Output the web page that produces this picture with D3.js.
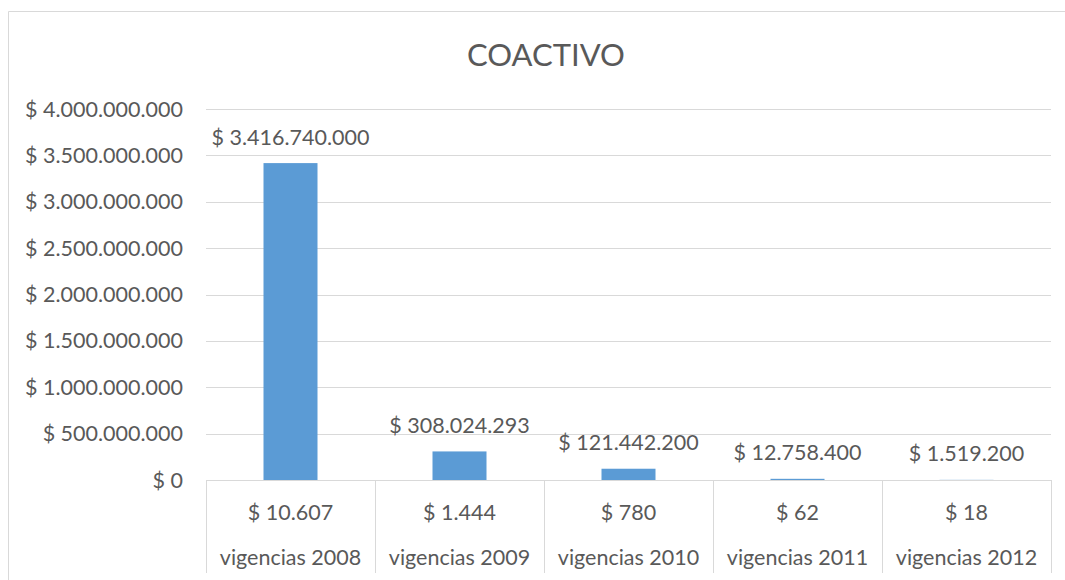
<!DOCTYPE html>
<html>
<head>
<meta charset="utf-8">
<script src="https://cdn.jsdelivr.net/npm/d3@7"></script>
<style>
  html, body { margin: 0; padding: 0; background: #fff; }
  svg { display: block; }
  text { font-family: Lato, "Open Sans", sans-serif; fill: #595959; }
</style>
</head>
<body>
<svg id="chart" width="1065" height="580"></svg>
<script>
// Values per year
const years = ["vigencias 2008", "vigencias 2009", "vigencias 2010", "vigencias 2011", "vigencias 2012"];
const counts = ["$ 10.607", "$ 1.444", "$ 780", "$ 62", "$ 18"];
const amounts = [3416740000, 308024293, 121442200, 12758400, 1519200];
const yTicks = [0, 500000000, 1000000000, 1500000000, 2000000000, 2500000000, 3000000000, 3500000000, 4000000000];
const title = "COACTIVO";

(function draw() {
  const svg = d3.select("#chart");
  const W = 1065, H = 580;
  const plotLeft = 206, plotRight = 1051, plotTop = 109, plotBottom = 480;
  const fs = "21.5px";

  // Money formatting with dots as thousands separator
  const es = d3.formatLocale({ decimal: ",", thousands: ".", grouping: [3], currency: ["$ ", ""] });
  const money = v => "$ " + es.format(",")(Math.round(v));

  // Chart frame
  svg.append("path")
    .attr("d", `M8.5,${H + 2} V11.5 H${W + 2}`)
    .attr("fill", "none").attr("stroke", "#d9d9d9").attr("stroke-width", 1);

  const x = d3.scaleBand().domain(years).range([plotLeft, plotRight]).paddingInner(0).paddingOuter(0);
  const y = d3.scaleLinear().domain([0, 4000000000]).range([plotBottom, plotTop]);

  // Gridlines
  svg.append("g").selectAll("line").data(yTicks.filter(d => d > 0)).join("line")
    .attr("x1", plotLeft).attr("x2", plotRight)
    .attr("y1", d => Math.round(y(d)) + 0.5).attr("y2", d => Math.round(y(d)) + 0.5)
    .attr("stroke", "#d9d9d9").attr("stroke-width", 1);

  // Y axis labels
  svg.append("g").selectAll("text").data(yTicks).join("text")
    .attr("x", 183).attr("y", d => y(d))
    .attr("dy", "0.35em").attr("text-anchor", "end")
    .style("font-size", fs)
    .text(d => money(d));

  // Bars
  const barW = 54;
  svg.append("g").selectAll("rect").data(amounts).join("rect")
    .attr("x", (d, i) => x(years[i]) + x.bandwidth() / 2 - barW / 2)
    .attr("width", barW)
    .attr("y", d => y(d))
    .attr("height", d => plotBottom - y(d))
    .attr("fill", "#5b9bd5");

  // Value labels
  svg.append("g").selectAll("text").data(amounts).join("text")
    .attr("x", (d, i) => x(years[i]) + x.bandwidth() / 2)
    .attr("y", d => y(d) - 26)
    .attr("dy", "0.35em").attr("text-anchor", "middle")
    .style("font-size", fs)
    .text(d => money(d));

  // Category axis as a table
  const axis = svg.append("g");
  axis.append("line")
    .attr("x1", plotLeft).attr("x2", plotRight).attr("y1", plotBottom + 0.5).attr("y2", plotBottom + 0.5)
    .attr("stroke", "#d9d9d9");
  const edges = years.map(d => x(d)).concat([plotRight]);
  axis.selectAll("line.sep").data(edges).join("line").attr("class", "sep")
    .attr("x1", d => Math.round(d) + 0.5).attr("x2", d => Math.round(d) + 0.5)
    .attr("y1", plotBottom).attr("y2", 573)
    .attr("stroke", "#d9d9d9");
  axis.selectAll("text.cnt").data(counts).join("text").attr("class", "cnt")
    .attr("x", (d, i) => x(years[i]) + x.bandwidth() / 2)
    .attr("y", 512).attr("dy", "0.35em").attr("text-anchor", "middle")
    .style("font-size", fs)
    .text(d => d);
  axis.selectAll("text.yr").data(years).join("text").attr("class", "yr")
    .attr("x", d => x(d) + x.bandwidth() / 2)
    .attr("y", 557).attr("dy", "0.35em").attr("text-anchor", "middle")
    .style("font-size", fs)
    .text(d => d);

  // Title
  svg.append("text")
    .attr("x", 546).attr("y", 55).attr("dy", "0.35em").attr("text-anchor", "middle")
    .style("font-size", "31px")
    .text(title);
})();
</script>
</body>
</html>
